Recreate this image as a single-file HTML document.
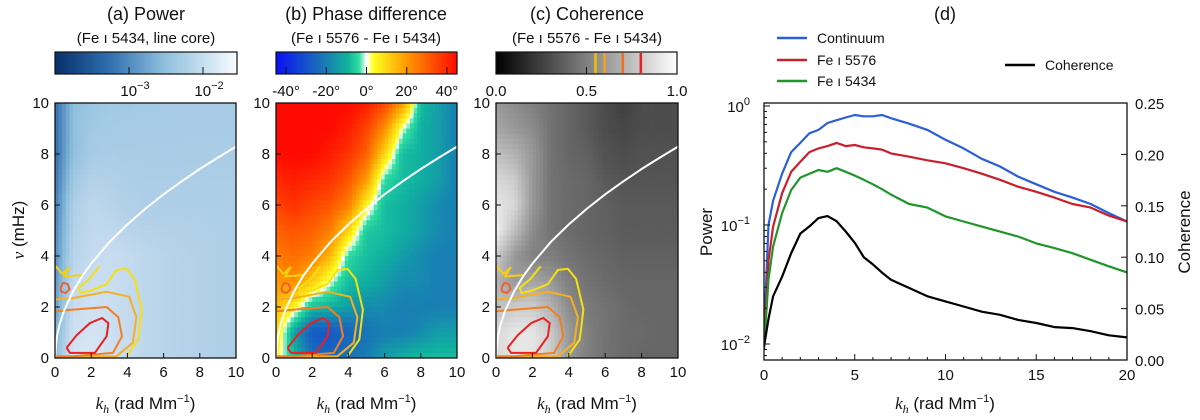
<!DOCTYPE html>
<html><head><meta charset="utf-8">
<style>
body{margin:0;background:#fff;}
svg{display:block;font-family:"Liberation Sans",sans-serif;}
</style></head>
<body>
<svg id="fig" width="1200" height="420" viewBox="0 0 1200 420">
<defs>
<linearGradient id="gBlues" x1="0" x2="1" y1="0" y2="0">
<stop offset="0" stop-color="#08306b"/><stop offset="0.3" stop-color="#2f6fae"/><stop offset="0.6" stop-color="#8ebfdd"/><stop offset="1" stop-color="#f7fbff"/>
</linearGradient>
<linearGradient id="gPhase" x1="0" x2="1" y1="0" y2="0">
<stop offset="0" stop-color="#0a10f5"/><stop offset="0.25" stop-color="#1a72b8"/><stop offset="0.4" stop-color="#10b59a"/><stop offset="0.46" stop-color="#30e0a0"/><stop offset="0.5" stop-color="#ffffff"/><stop offset="0.54" stop-color="#ffff20"/><stop offset="0.72" stop-color="#ff9a00"/><stop offset="1" stop-color="#ff0a00"/>
</linearGradient>
<linearGradient id="gGray" x1="0" x2="1" y1="0" y2="0">
<stop offset="0" stop-color="#000"/><stop offset="1" stop-color="#fff"/>
</linearGradient>
</defs>
<g id="root"></g>
</svg>
<script>
// ---------- heatmap data (rows: nu = 10 .. 0, columns: k = 0 .. 10) ----------
const hmK = [0,1,2,3,4,5,6,7,8,9,10];
const powerNu = [10,8,6,4,2,0];
const powerGrid = [
 [0.3,0.55,0.6,0.62,0.62,0.63,0.63,0.64,0.64,0.64,0.64],
 [0.3,0.56,0.64,0.65,0.65,0.65,0.65,0.65,0.65,0.65,0.65],
 [0.35,0.66,0.72,0.7,0.67,0.66,0.66,0.66,0.66,0.66,0.66],
 [0.4,0.7,0.74,0.76,0.74,0.72,0.7,0.69,0.68,0.67,0.66],
 [0.45,0.76,0.8,0.78,0.74,0.72,0.7,0.69,0.68,0.67,0.66],
 [0.55,0.82,0.84,0.8,0.76,0.72,0.7,0.69,0.68,0.67,0.66]];
const phaseNu = [10,9,8,7,6,5,4,3,2,1,0];
const phaseGrid = [
 [45,45,45,45,45,42,35,20,-10,-15,-20],
 [45,45,45,45,42,35,22,0,-12,-15,-20],
 [45,45,45,42,38,30,10,-10,-12,-15,-20],
 [40,42,40,38,32,20,-5,-10,-12,-15,-20],
 [35,38,35,32,25,5,-10,-12,-15,-18,-20],
 [30,32,30,25,10,-8,-10,-12,-15,-18,-20],
 [25,28,25,15,-5,-10,-12,-15,-18,-20,-20],
 [20,22,12,0,-10,-12,-15,-18,-18,-20,-20],
 [15,5,-10,-12,-15,-18,-18,-20,-20,-20,-20],
 [10,-15,-28,-28,-25,-22,-20,-20,-18,-15,-15],
 [5,-10,-22,-25,-22,-20,-15,-12,-10,-10,-10]];
const cohNu = [10,9,8,7,6,5,4,3,2,1,0];
const cohGrid = [
 [0.6,0.55,0.5,0.45,0.4,0.35,0.3,0.25,0.3,0.3,0.3],
 [0.65,0.6,0.55,0.45,0.4,0.35,0.3,0.28,0.3,0.3,0.3],
 [0.75,0.7,0.6,0.45,0.4,0.38,0.32,0.3,0.32,0.32,0.32],
 [0.85,0.8,0.6,0.45,0.42,0.4,0.35,0.33,0.33,0.33,0.33],
 [0.9,0.85,0.6,0.45,0.42,0.4,0.38,0.35,0.35,0.35,0.35],
 [0.95,0.75,0.55,0.45,0.42,0.4,0.38,0.36,0.36,0.36,0.36],
 [0.8,0.6,0.5,0.5,0.45,0.42,0.4,0.38,0.38,0.38,0.38],
 [0.7,0.6,0.65,0.6,0.5,0.45,0.42,0.4,0.4,0.4,0.4],
 [0.75,0.8,0.8,0.7,0.55,0.48,0.45,0.42,0.4,0.4,0.4],
 [0.85,0.9,0.9,0.8,0.6,0.5,0.45,0.42,0.42,0.4,0.4],
 [0.85,0.9,0.9,0.8,0.6,0.5,0.45,0.42,0.4,0.4,0.4]];
// contours (k, nu) pairs
const contourRed = [[0.64,0.4],[1.2,0.9],[1.93,1.37],[2.6,1.57],[2.95,1.37],[2.85,0.85],[2.2,0.2],[0.83,0.2],[0.64,0.4]];
const contourOrange = [[0.05,1.83],[1.0,1.9],[2.85,2.0],[3.5,1.6],[3.7,0.85],[3.2,0.2],[1.0,0.07],[0.05,0.07]];
const contourLightOrange = [[0.05,2.3],[1.0,2.35],[2.85,2.6],[4.1,2.4],[4.5,1.6],[4.3,0.6],[3.4,0.07],[0.05,0.05]];
const contourYellow = [[2.45,3.6],[1.9,3.1],[1.3,2.75],[1.4,2.55],[2.0,2.65],[2.85,2.9],[3.4,3.45],[3.95,3.5],[4.4,3.1],[4.8,1.9],[4.6,0.72],[3.95,0.07]];
const contourYellowLeft = [[0.05,3.6],[0.4,3.3],[0.8,3.55],[0.5,3.2],[1.5,3.25]];
const contourSmallRed = [[0.3,2.75],[0.45,2.95],[0.7,2.9],[0.8,2.7],[0.6,2.55],[0.35,2.6],[0.3,2.75]];
const ridgeK = [0,0.1,0.25,0.5,1,1.5,2,3,4,5,6,7,8,9,10];
const ridgeNu = [0,0.83,1.31,1.85,2.62,3.21,3.7,4.54,5.24,5.86,6.42,6.93,7.41,7.86,8.29];
// ---------- panel (d) data ----------
const specK = [0,0.25,0.5,1,1.5,2,2.5,3,3.5,4,4.5,5,5.5,6,6.5,7,8,9,10,11,12,13,14,15,16,17,18,19,20];
const contPower = [0.012,0.1,0.16,0.27,0.41,0.49,0.59,0.63,0.72,0.76,0.8,0.84,0.82,0.82,0.84,0.79,0.71,0.63,0.52,0.44,0.36,0.31,0.255,0.22,0.19,0.17,0.15,0.126,0.107];
const fe5576Power = [0.01,0.05,0.097,0.185,0.28,0.34,0.41,0.44,0.46,0.49,0.46,0.47,0.45,0.44,0.43,0.40,0.375,0.35,0.33,0.30,0.27,0.24,0.21,0.19,0.17,0.15,0.14,0.12,0.107];
const fe5434Power = [0.009,0.035,0.066,0.126,0.197,0.25,0.27,0.29,0.28,0.3,0.28,0.26,0.24,0.22,0.2,0.18,0.15,0.14,0.118,0.107,0.097,0.088,0.08,0.07,0.064,0.058,0.051,0.045,0.04];
const cohValues = [0.013,0.04,0.062,0.081,0.104,0.123,0.13,0.138,0.14,0.135,0.125,0.114,0.1,0.093,0.085,0.078,0.07,0.062,0.057,0.052,0.047,0.044,0.039,0.036,0.032,0.031,0.028,0.024,0.022];
const xTicksD = [0,5,10,15,20];
const cohTicks = [0,0.05,0.1,0.15,0.2,0.25];
const cohTickLabels = ["0.00","0.05","0.10","0.15","0.20","0.25"];

const NS="http://www.w3.org/2000/svg";
const root=document.getElementById('root');
function mk(tag,attrs,parent){const e=document.createElementNS(NS,tag);for(const k in attrs)e.setAttribute(k,attrs[k]);(parent||root).appendChild(e);return e;}
function txt(x,y,s,size,anchor,parent){const t=mk('text',{x:x,y:y,'font-size':size,'text-anchor':anchor||'middle',fill:'#111'},parent);t.textContent=s;return t;}
function lerp(a,b,t){return a+(b-a)*t;}
function hex(c){return [parseInt(c.slice(1,3),16),parseInt(c.slice(3,5),16),parseInt(c.slice(5,7),16)];}
function cmap(stops,v){
  if(v<=stops[0][0])return stops[0][1];
  for(let i=1;i<stops.length;i++){if(v<=stops[i][0]){const t=(v-stops[i-1][0])/(stops[i][0]-stops[i-1][0]);const a=hex(stops[i-1][1]),b=hex(stops[i][1]);return 'rgb('+a.map((x,j)=>Math.round(lerp(x,b[j],t))).join(',')+')';}}
  return stops[stops.length-1][1];
}
const bluesStops=[[0,'#08306b'],[0.3,'#2f6fae'],[0.55,'#8ebfdd'],[0.75,'#c6dbef'],[1,'#f7fbff']];
const phaseStops=[[-45,'#0a10f5'],[-22,'#1a72b8'],[-12,'#10b0a0'],[-4,'#30e0a0'],[0,'#ffffff'],[3,'#ffff20'],[20,'#ff9a00'],[45,'#ff0a00']];
const grayStops=[[0,'#000000'],[1,'#ffffff']];
function sample(grid,nus,k,nu){
  const ci=Math.min(Math.max(k,0),9.9999);const c0=Math.floor(ci),tc=ci-c0;
  let r=0;while(r<nus.length-2&&nu<nus[r+1])r++;
  const tr=Math.min(Math.max((nus[r]-nu)/(nus[r]-nus[r+1]),0),1);
  const a=lerp(grid[r][c0],grid[r][c0+1],tc),b=lerp(grid[r+1][c0],grid[r+1][c0+1],tc);
  return lerp(a,b,tr);
}
function panel(id,x0,x1,grid,nus,stops,showY){
  const y0=103,y1=358;
  const g=mk('g',{});  
  const sx=k=>x0+(x1-x0)*k/10, sy=v=>y1-(y1-y0)*v/10;
  const N=50,cw=(x1-x0)/N,ch=(y1-y0)/N;
  const hm=mk('g',{},g);  
  for(let i=0;i<N;i++)for(let j=0;j<N;j++){
    const k=(i+0.5)*10/N,nu=10-(j+0.5)*10/N;
    const r=mk('rect',{x:(x0+i*cw).toFixed(2),y:(y0+j*ch).toFixed(2),width:(cw+0.4).toFixed(2),height:(ch+0.4).toFixed(2),fill:cmap(stops,sample(grid,nus,k,nu))},hm);
    
    
  }
  const path=pts=>pts.map((p,i)=>(i?'L':'M')+sx(p[0]).toFixed(1)+' '+sy(p[1]).toFixed(1)).join(' ');
  const conts=[[contourYellow,'#f5e010'],[contourYellowLeft,'#f5d010'],[contourLightOrange,'#f5b020'],[contourOrange,'#f08020'],[contourSmallRed,'#f06030'],[contourRed,'#e82020']];
  conts.forEach((c,i)=>{const p=mk('path',{d:path(c[0]),fill:'none',stroke:c[1],'stroke-width':2,'stroke-linejoin':'round'},g);});
  const rp=mk('path',{d:path(ridgeK.map((k,i)=>[k,ridgeNu[i]])),fill:'none',stroke:'#fff','stroke-width':2},g);
   
  const fr=mk('rect',{x:x0,y:y0,width:x1-x0,height:y1-y0,fill:'none',stroke:'#111','stroke-width':1.3},g);
   
  for(let t=0;t<=10;t+=2){
    mk('line',{x1:sx(t),x2:sx(t),y1:y1,y2:y1-5,stroke:'#111'},g);
    mk('line',{x1:x0,x2:x0+5,y1:sy(t),y2:sy(t),stroke:'#111'},g);
    const xl=txt(sx(t),y1+19,String(t),15,'middle',g);  
    const yl=txt(x0-6,sy(t)+5,String(t),15,'end',g);  
  }
  const xt=mk('text',{x:(x0+x1)/2,y:409,'font-size':17,'text-anchor':'middle',fill:'#111'},g);
  xt.innerHTML='<tspan font-style="italic" font-family="Liberation Serif">k<tspan font-size="12" dy="4">h</tspan></tspan><tspan dy="-4"> (rad Mm</tspan><tspan font-size="11" dy="-7">−1</tspan><tspan dy="7">)</tspan>';
   
}
panel('power',55,236,powerGrid,powerNu,bluesStops);
panel('phase',276,457,phaseGrid,phaseNu,phaseStops);
panel('coherence',496,678,cohGrid,cohNu,grayStops);
const yt=mk('text',{x:24,y:230,'font-size':17,'text-anchor':'middle',fill:'#111',transform:'rotate(-90 24 230)'});
yt.innerHTML='<tspan font-style="italic" font-family="Liberation Serif">ν</tspan> (mHz)';
 
// titles & colorbars
function header(cx,t1,t2,name){
  const a=txt(cx,20,t1,18);  
  const b=txt(cx,43,t2,15);  
}
header(146,'(a) Power','(Fe ı 5434, line core)','power');
header(366,'(b) Phase difference','(Fe ı 5576 - Fe ı 5434)','phase');
header(587,'(c) Coherence','(Fe ı 5576 - Fe ı 5434)','coherence');
function cbar(x0,x1,grad,name){const r=mk('rect',{x:x0,y:52,width:x1-x0,height:22,fill:'url(#'+grad+')',stroke:'#111','stroke-width':1.2});}
cbar(55,237,'gBlues','power'); cbar(276,457,'gPhase','phase'); cbar(496,677,'gGray','coherence');
[[129,'10'],[203,'10']].forEach(p=>{mk('line',{x1:p[0],x2:p[0],y1:74,y2:67,stroke:'#111'});const t=mk('text',{x:p[0]+6,y:96,'font-size':15,'text-anchor':'middle',fill:'#111'});t.innerHTML='10<tspan font-size="11" dy="-7">'+(p[0]<150?'−3':'−2')+'</tspan>';});
[-40,-20,0,20,40].forEach(v=>{const x=276+(v+45)/90*181;mk('line',{x1:x,x2:x,y1:74,y2:67,stroke:'#111'});const t=txt(x,96,v+'°',15);});
[[0.55,'#f0c000'],[0.6,'#f5a020'],[0.7,'#f07020'],[0.8,'#e82020']].forEach(c=>{const x=496+c[0]*181;mk('line',{x1:x,x2:x,y1:53,y2:73,stroke:c[1],'stroke-width':2.5});});
mk('line',{x1:586.5,x2:586.5,y1:74,y2:67,stroke:'#111'});
[[0,'0.0'],[0.5,'0.5'],[1,'1.0']].forEach(p=>{const t=txt(496+p[0]*181,96,p[1],15);});
// ---------- panel (d) ----------
const dx0=764,dx1=1127,dy0=103,dy1=360;
const sxD=k=>dx0+(dx1-dx0)*k/20;
const syP=p=>106-119*Math.log10(p);
const syC=c=>dy1-(dy1-dy0)*c/0.25;
const gd=mk('g',{});  
mk('defs',{},gd).innerHTML='<clipPath id="clipD"><rect x="'+dx0+'" y="'+dy0+'" width="'+(dx1-dx0)+'" height="'+(dy1-dy0)+'"/></clipPath>';
const lines=[[contPower,'#2a5fd8',syP,'continuum-line'],[fe5576Power,'#c8202a',syP,'fe5576-line'],[fe5434Power,'#20962a',syP,'fe5434-line'],[cohValues,'#000',syC,'coherence-line']];
lines.forEach(l=>{const d=specK.map((k,i)=>(i?'L':'M')+sxD(k).toFixed(1)+' '+l[2](l[0][i]).toFixed(1)).join(' ');
  const p=mk('path',{d:d,fill:'none',stroke:l[1],'stroke-width':2.2,'stroke-linejoin':'round','clip-path':'url(#clipD)'},gd);
   });
mk('rect',{x:dx0,y:dy0,width:dx1-dx0,height:dy1-dy0,fill:'none',stroke:'#111','stroke-width':1.3},gd);
xTicksD.forEach(t=>{mk('line',{x1:sxD(t),x2:sxD(t),y1:dy1,y2:dy1-6,stroke:'#111'},gd);const l=txt(sxD(t),dy1+20,String(t),15,'middle',gd);});
for(let t=1;t<20;t++) if(t%5) mk('line',{x1:sxD(t),x2:sxD(t),y1:dy1,y2:dy1-3,stroke:'#111'},gd);
[0,-1,-2].forEach(e=>{const y=syP(Math.pow(10,e));mk('line',{x1:dx0,x2:dx0+6,y1:y,y2:y,stroke:'#111'},gd);
  const t=mk('text',{x:dx0-14,y:y+6,'font-size':15,'text-anchor':'end',fill:'#111'},gd);t.innerHTML='10<tspan font-size="11" dy="-7">'+(e?'−'+(-e):'0')+'</tspan>';
  for(let m=2;m<10;m++){const yy=syP(m*Math.pow(10,e-1));if(yy<=dy1&&yy>=dy0)mk('line',{x1:dx0,x2:dx0+3,y1:yy,y2:yy,stroke:'#111'},gd);}});
[2,3,4,5,6,7,8,9].forEach(m=>{const yy=syP(m*1e-3);if(yy<=dy1)mk('line',{x1:dx0,x2:dx0+3,y1:yy,y2:yy,stroke:'#111'},gd);});
cohTicks.forEach((c,i)=>{const y=syC(c);mk('line',{x1:dx1,x2:dx1-6,y1:y,y2:y,stroke:'#111'},gd);const t=txt(dx1+8,y+6,cohTickLabels[i],15,'start',gd);});
const dxt=mk('text',{x:945,y:409,'font-size':17,'text-anchor':'middle',fill:'#111'},gd);
dxt.innerHTML='<tspan font-style="italic" font-family="Liberation Serif">k<tspan font-size="12" dy="4">h</tspan></tspan><tspan dy="-4"> (rad Mm</tspan><tspan font-size="11" dy="-7">−1</tspan><tspan dy="7">)</tspan>';
 
const pl=mk('text',{x:712,y:232,'font-size':17,'text-anchor':'middle',fill:'#111',transform:'rotate(-90 712 232)'},gd);pl.textContent='Power';
 
const cl=mk('text',{x:1190,y:232,'font-size':17,'text-anchor':'middle',fill:'#111',transform:'rotate(-90 1190 232)'},gd);cl.textContent='Coherence';
 
const dt=txt(945,20,'(d)',18,'middle',gd);  
[['Continuum','#2a5fd8',38,777],['Fe ı 5576','#c8202a',60,777],['Fe ı 5434','#20962a',81,777],['Coherence','#000',65,1005]].forEach(l=>{
  const g=mk('g',{});  
  mk('line',{x1:l[3],x2:l[3]+30,y1:l[2],y2:l[2],stroke:l[1],'stroke-width':2.5},g);
  txt(l[3]+40,l[2]+5,l[0],14,'start',g);
});
</script>
</body></html>
